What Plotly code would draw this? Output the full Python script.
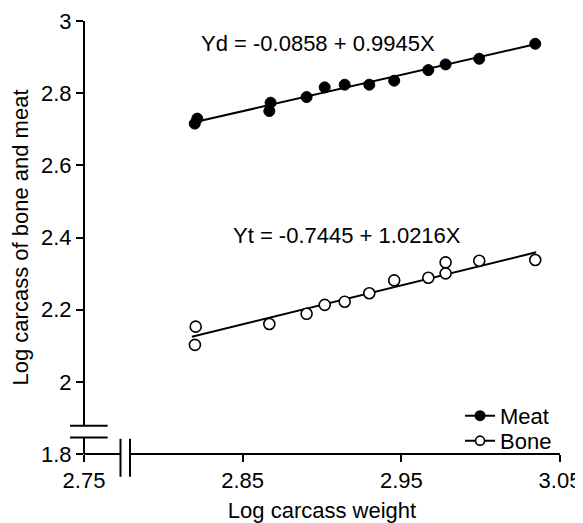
import plotly.graph_objects as go

# ---- data ----
x_vals = [2.8198, 2.8214, 2.8676, 2.8668, 2.8903, 2.9017, 2.9143, 2.9298,
          2.9455, 2.9670, 2.9779, 2.9991, 3.0344]
meat_y = [2.7156, 2.7295, 2.7737, 2.7505, 2.7892, 2.8161, 2.8235, 2.8235,
          2.8346, 2.8639, 2.8797, 2.8954, 2.9369]

bone_x = [2.8204, 2.8199, 2.8668, 2.8903, 2.9017, 2.9143, 2.9298, 2.9455,
          2.9670, 2.9779, 2.9779, 2.9991, 3.0344]
bone_y = [2.1530, 2.1024, 2.1604, 2.1885, 2.2134, 2.2221, 2.2454, 2.2813,
          2.2885, 2.3007, 2.3311, 2.3355, 2.3375]

fit_x = [2.818, 3.035]
meat_fit = [2.718, 2.936]
bone_fit = [2.125, 2.359]

eq_meat = "Yd = -0.0858 + 0.9945X"
eq_bone = "Yt = -0.7445 + 1.0216X"

x_ticks = [2.75, 2.85, 2.95, 3.05]
x_tick_text = ["2.75", "2.85", "2.95", "3.05"]
y_ticks = [1.8, 2.0, 2.2, 2.4, 2.6, 2.8, 3.0]
y_tick_text = ["1.8", "2", "2.2", "2.4", "2.6", "2.8", "3"]

x_range = [2.75, 3.05]
y_range = [1.8, 3.0]

FONT = "Arial, Liberation Sans, Helvetica, sans-serif"
BLACK = "#000000"
FS = 22

fig = go.Figure()

# regression lines
fig.add_trace(go.Scatter(x=fit_x, y=meat_fit, mode="lines",
                         line=dict(color=BLACK, width=2), showlegend=False,
                         hoverinfo="skip"))
fig.add_trace(go.Scatter(x=fit_x, y=bone_fit, mode="lines",
                         line=dict(color=BLACK, width=2), showlegend=False,
                         hoverinfo="skip"))

# points
fig.add_trace(go.Scatter(x=x_vals, y=meat_y, mode="markers", showlegend=False,
                         marker=dict(symbol="circle", size=11, color=BLACK,
                                     line=dict(color=BLACK, width=1))))
fig.add_trace(go.Scatter(x=bone_x, y=bone_y, mode="markers", showlegend=False,
                         marker=dict(symbol="circle", size=11, color="white",
                                     line=dict(color=BLACK, width=1.6))))

# legend entries (one legend each so the row spacing can match)
fig.add_trace(go.Scatter(x=[None], y=[None], mode="lines+markers", name="Meat",
                         legend="legend",
                         line=dict(color=BLACK, width=2),
                         marker=dict(symbol="circle", size=11, color=BLACK)))
fig.add_trace(go.Scatter(x=[None], y=[None], mode="lines+markers", name="Bone",
                         legend="legend2",
                         line=dict(color=BLACK, width=2),
                         marker=dict(symbol="circle", size=9, color="white",
                                     line=dict(color=BLACK, width=1.6))))

# equations
fig.add_annotation(x=2.8975, y=2.938, text=eq_meat, showarrow=False,
                   font=dict(family=FONT, size=FS, color=BLACK))
fig.add_annotation(x=2.9155, y=2.4047, text=eq_bone, showarrow=False,
                   font=dict(family=FONT, size=FS, color=BLACK))


def px(v):
    return (v - x_range[0]) / (x_range[1] - x_range[0])


def py(v):
    return (v - y_range[0]) / (y_range[1] - y_range[0])


# axis breaks
yb_lo, yb_hi = 1.846, 1.878
xb_lo, xb_hi = 2.773, 2.779
line = dict(color=BLACK, width=2)
shapes = [
    dict(type="line", xref="paper", yref="paper", x0=0, x1=0, y0=py(yb_hi), y1=1, line=line),
    dict(type="line", xref="paper", yref="paper", x0=0, x1=0, y0=0, y1=py(yb_lo), line=line),
    dict(type="line", xref="paper", yref="paper", x0=0, x1=px(xb_lo), y0=0, y1=0, line=line),
    dict(type="line", xref="paper", yref="paper", x0=px(xb_hi), x1=1, y0=0, y1=0, line=line),
    dict(type="line", xref="paper", yref="paper", x0=px(2.7412), x1=px(2.7649),
         y0=py(yb_hi), y1=py(yb_hi), line=line),
    dict(type="line", xref="paper", yref="paper", x0=px(2.7412), x1=px(2.7649),
         y0=py(yb_lo), y1=py(yb_lo), line=line),
    dict(type="line", xref="paper", yref="paper", x0=px(xb_lo), x1=px(xb_lo),
         y0=py(1.737), y1=py(1.842), line=line),
    dict(type="line", xref="paper", yref="paper", x0=px(xb_hi), x1=px(xb_hi),
         y0=py(1.737), y1=py(1.842), line=line),
]

leg_common = dict(xanchor="left", yanchor="middle", bgcolor="rgba(0,0,0,0)",
                  font=dict(size=FS), itemwidth=30, borderwidth=0)

# the page adds an 8 px body margin, so the figure is 8 px smaller than the window
fig.update_layout(
    width=575, height=515,
    margin=dict(l=76, r=23, t=12.5, b=68.7, autoexpand=False),
    paper_bgcolor="white", plot_bgcolor="white",
    font=dict(family=FONT, size=FS, color=BLACK),
    shapes=shapes,
    showlegend=True,
    legend=dict(x=0.79, y=py(1.9055), **leg_common),
    legend2=dict(x=0.79, y=py(1.8365), **leg_common),
    xaxis=dict(range=x_range, tickvals=x_ticks, ticktext=x_tick_text,
               showgrid=False, zeroline=False, showline=False, automargin=False,
               ticks="outside", ticklen=7, tickwidth=2, tickcolor=BLACK,
               title=dict(text="Log carcass weight", standoff=10,
                          font=dict(size=FS))),
    yaxis=dict(range=y_range, tickvals=y_ticks, ticktext=y_tick_text,
               showgrid=False, zeroline=False, showline=False, automargin=False,
               ticks="outside", ticklen=7, tickwidth=2, tickcolor=BLACK,
               title=dict(text="Log carcass of bone and meat", standoff=8,
                          font=dict(size=FS))),
)

fig.write_html("out.html")
